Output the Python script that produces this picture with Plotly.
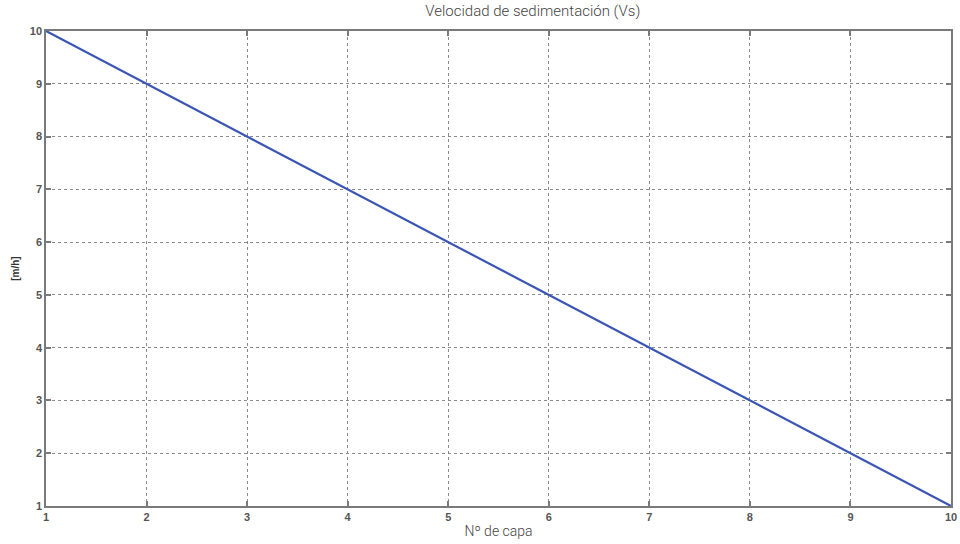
import plotly.graph_objects as go

capas = [1, 2, 3, 4, 5, 6, 7, 8, 9, 10]
vs = [10, 9, 8, 7, 6, 5, 4, 3, 2, 1]
x_ticks = [1, 2, 3, 4, 5, 6, 7, 8, 9, 10]
y_ticks = [1, 2, 3, 4, 5, 6, 7, 8, 9, 10]

fig = go.Figure()
fig.add_trace(go.Scatter(x=capas, y=vs, mode="lines",
                         line=dict(color="#3a55b4", width=2.2), showlegend=False))

axis_common = dict(
    showline=True, linecolor="#7a7a7a", linewidth=1.5, mirror="ticks",
    ticks="inside", ticklen=5, tickcolor="#7a7a7a", tickwidth=1.5,
    showgrid=True, gridcolor="#8a8a8a", griddash="dot", gridwidth=1,
    zeroline=False, automargin=False,
    tickfont=dict(family="Liberation Sans", size=11, color="#555555", weight="bold"),
)

fig.update_xaxes(range=[1, 10], tickvals=x_ticks, ticktext=[str(v) for v in x_ticks],
                 title=dict(text="Nº de capa", standoff=4,
                            font=dict(family="Roboto", size=14, color="#444444", weight=300)),
                 **axis_common)
fig.update_yaxes(range=[1, 10], tickvals=y_ticks, ticktext=[str(v) for v in y_ticks],
                 title=dict(text="[m/h]", standoff=8,
                            font=dict(family="Liberation Sans", size=10, color="#333333", weight="bold")),
                 **axis_common)

fig.update_layout(
    width=960, height=544,
    margin=dict(l=46, r=9, t=31, b=38),
    paper_bgcolor="white", plot_bgcolor="white",
    title=dict(text="Velocidad de sedimentación (Vs)", x=0.555, xanchor="center",
               y=0.99, yanchor="top",
               font=dict(family="Roboto", size=15, color="#444444", weight=300)),
)

fig.write_html("out.html")
